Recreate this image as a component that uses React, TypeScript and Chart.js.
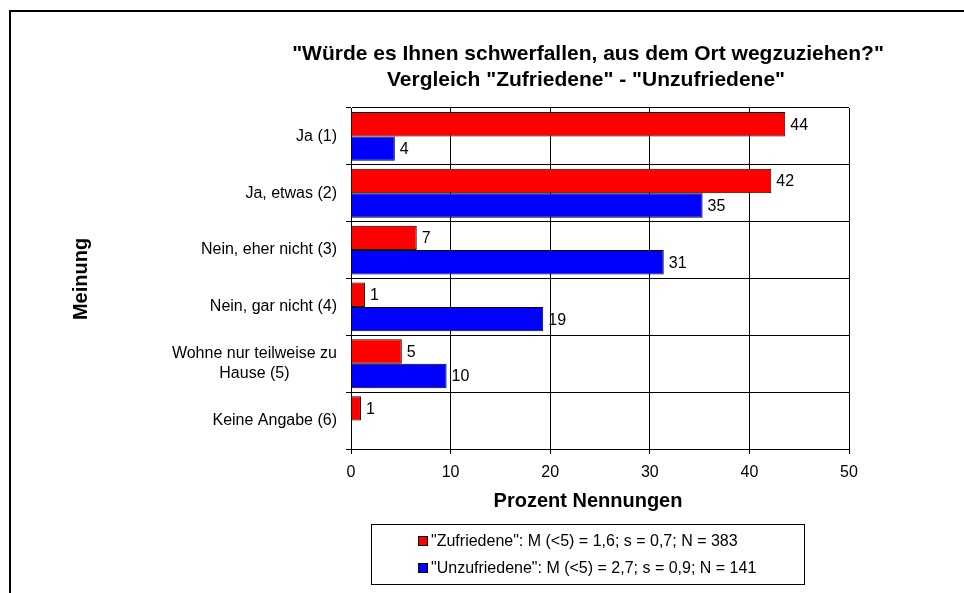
import React, { useEffect, useRef } from "react";
import { Chart, registerables } from "chart.js";

Chart.register(...registerables);

const categories: (string | string[])[] = [
  "Ja (1)",
  "Ja, etwas (2)",
  "Nein, eher nicht (3)",
  "Nein, gar nicht (4)",
  ["Wohne nur teilweise zu", "Hause (5)"],
  "Keine Angabe (6)",
];

const zufriedene: (number | null)[] = [43.6, 42.2, 6.6, 1.4, 5.1, 1.0];
const unzufriedene: (number | null)[] = [4.4, 35.3, 31.4, 19.3, 9.6, null];

const seriesLabels = [
  '"Zufriedene": M (<5) = 1,6; s = 0,7; N = 383',
  '"Unzufriedene": M (<5) = 2,7; s = 0,9; N = 141',
];
const seriesColors = ["#FF0000", "#0000FF"];

const titleLines = [
  '"Würde es Ihnen schwerfallen, aus dem Ort wegzuziehen?"',
  'Vergleich "Zufriedene" - "Unzufriedene"',
];
const xTitle = "Prozent Nennungen";
const yTitle = "Meinung";
const xTicks = [0, 10, 20, 30, 40, 50];

const FONT = "Arial, 'Liberation Sans', sans-serif";

const overlay = {
  id: "overlay",
  afterDraw(chart: any) {
    const ctx = chart.ctx as CanvasRenderingContext2D;
    const yScale = chart.scales.y;
    ctx.save();
    ctx.fillStyle = "#000";

    // title
    ctx.font = `bold 21px ${FONT}`;
    ctx.textAlign = "center";
    ctx.textBaseline = "middle";
    ctx.fillText(titleLines[0], 588, 54);
    ctx.fillText(titleLines[1], 586, 80);

    // x title
    ctx.font = `bold 20px ${FONT}`;
    ctx.fillText(xTitle, 588, 501);

    // y title
    ctx.save();
    ctx.translate(81, 279);
    ctx.rotate(-Math.PI / 2);
    ctx.font = `bold 20px ${FONT}`;
    ctx.fillText(yTitle, 0, 0);
    ctx.restore();

    // category labels
    ctx.font = `16px ${FONT}`;
    categories.forEach((c, i) => {
      const lines = Array.isArray(c) ? c : [c];
      const y = yScale.getPixelForValue(i);
      const maxW = Math.max(...lines.map((l) => ctx.measureText(l).width));
      const cx = 337 - maxW / 2;
      const lh = 20;
      lines.forEach((l, j) => {
        ctx.textAlign = "center";
        ctx.fillText(l, cx, y + (j - (lines.length - 1) / 2) * lh);
      });
    });

    // data labels
    ctx.font = `16px ${FONT}`;
    ctx.textAlign = "left";
    chart.data.datasets.forEach((ds: any, di: number) => {
      const meta = chart.getDatasetMeta(di);
      meta.data.forEach((el: any, i: number) => {
        const v = ds.data[i];
        if (v === null || v === undefined) return;
        ctx.fillText(String(Math.round(v)), el.x + 5, el.y + 1);
      });
    });

    // legend
    ctx.strokeStyle = "#000";
    ctx.lineWidth = 1;
    ctx.strokeRect(371.5, 524.5, 433, 60);
    seriesLabels.forEach((l, i) => {
      const y = 541 + i * 27;
      ctx.fillStyle = seriesColors[i];
      ctx.fillRect(418, y - 5, 10, 10);
      ctx.strokeRect(418.5, y - 4.5, 9, 9);
      ctx.fillStyle = "#000";
      ctx.textAlign = "left";
      ctx.fillText(l, 431, y + 1);
    });

    // outer border
    ctx.lineWidth = 2;
    ctx.beginPath();
    ctx.moveTo(10, 593);
    ctx.lineTo(10, 11);
    ctx.lineTo(964, 11);
    ctx.stroke();
    ctx.restore();
  },
};

export default function App() {
  const ref = useRef<HTMLCanvasElement>(null);
  useEffect(() => {
    if (!ref.current) return;
    const chart = new Chart(ref.current, {
      type: "bar",
      data: {
        labels: categories as any,
        datasets: [
          {
            label: seriesLabels[0],
            data: zufriedene,
            backgroundColor: seriesColors[0],
            borderColor: "#000",
            borderWidth: 1,
          },
          {
            label: seriesLabels[1],
            data: unzufriedene,
            backgroundColor: seriesColors[1],
            borderColor: "#000",
            borderWidth: 1,
          },
        ],
      },
      options: {
        indexAxis: "y",
        responsive: false,
        animation: false,
        devicePixelRatio: 1,
        categoryPercentage: 0.86,
        barPercentage: 1.0,
        layout: { padding: { left: 0, top: 108, right: 115, bottom: 104 } },
        plugins: {
          legend: { display: false },
          title: { display: false },
          tooltip: { enabled: false },
        },
        scales: {
          x: {
            min: 0,
            max: 50,
            afterFit: (s: any) => {
              s.height = 40;
            },
            afterBuildTicks: (s: any) => {
              s.ticks = xTicks.map((v) => ({ value: v }));
            },
            ticks: {
              color: "#000",
              font: { family: FONT, size: 16 },
              padding: 9,
              maxRotation: 0,
            },
            grid: { color: "#000", lineWidth: 1, tickLength: 5 },
            border: { color: "#000", width: 1 },
          },
          y: {
            afterFit: (s: any) => {
              s.width = 351;
            },
            ticks: { display: false },
            grid: { color: "#000", lineWidth: 1, tickLength: 5, offset: true },
            border: { color: "#000", width: 1 },
          },
        },
      } as any,
      plugins: [overlay],
    });
    return () => chart.destroy();
  }, []);
  return (
    <div style={{ position: "fixed", left: 0, top: 0, width: 964, height: 593, background: "#fff" }}>
      <canvas ref={ref} width={964} height={593} style={{ width: 964, height: 593, display: "block" }} />
    </div>
  );
}
